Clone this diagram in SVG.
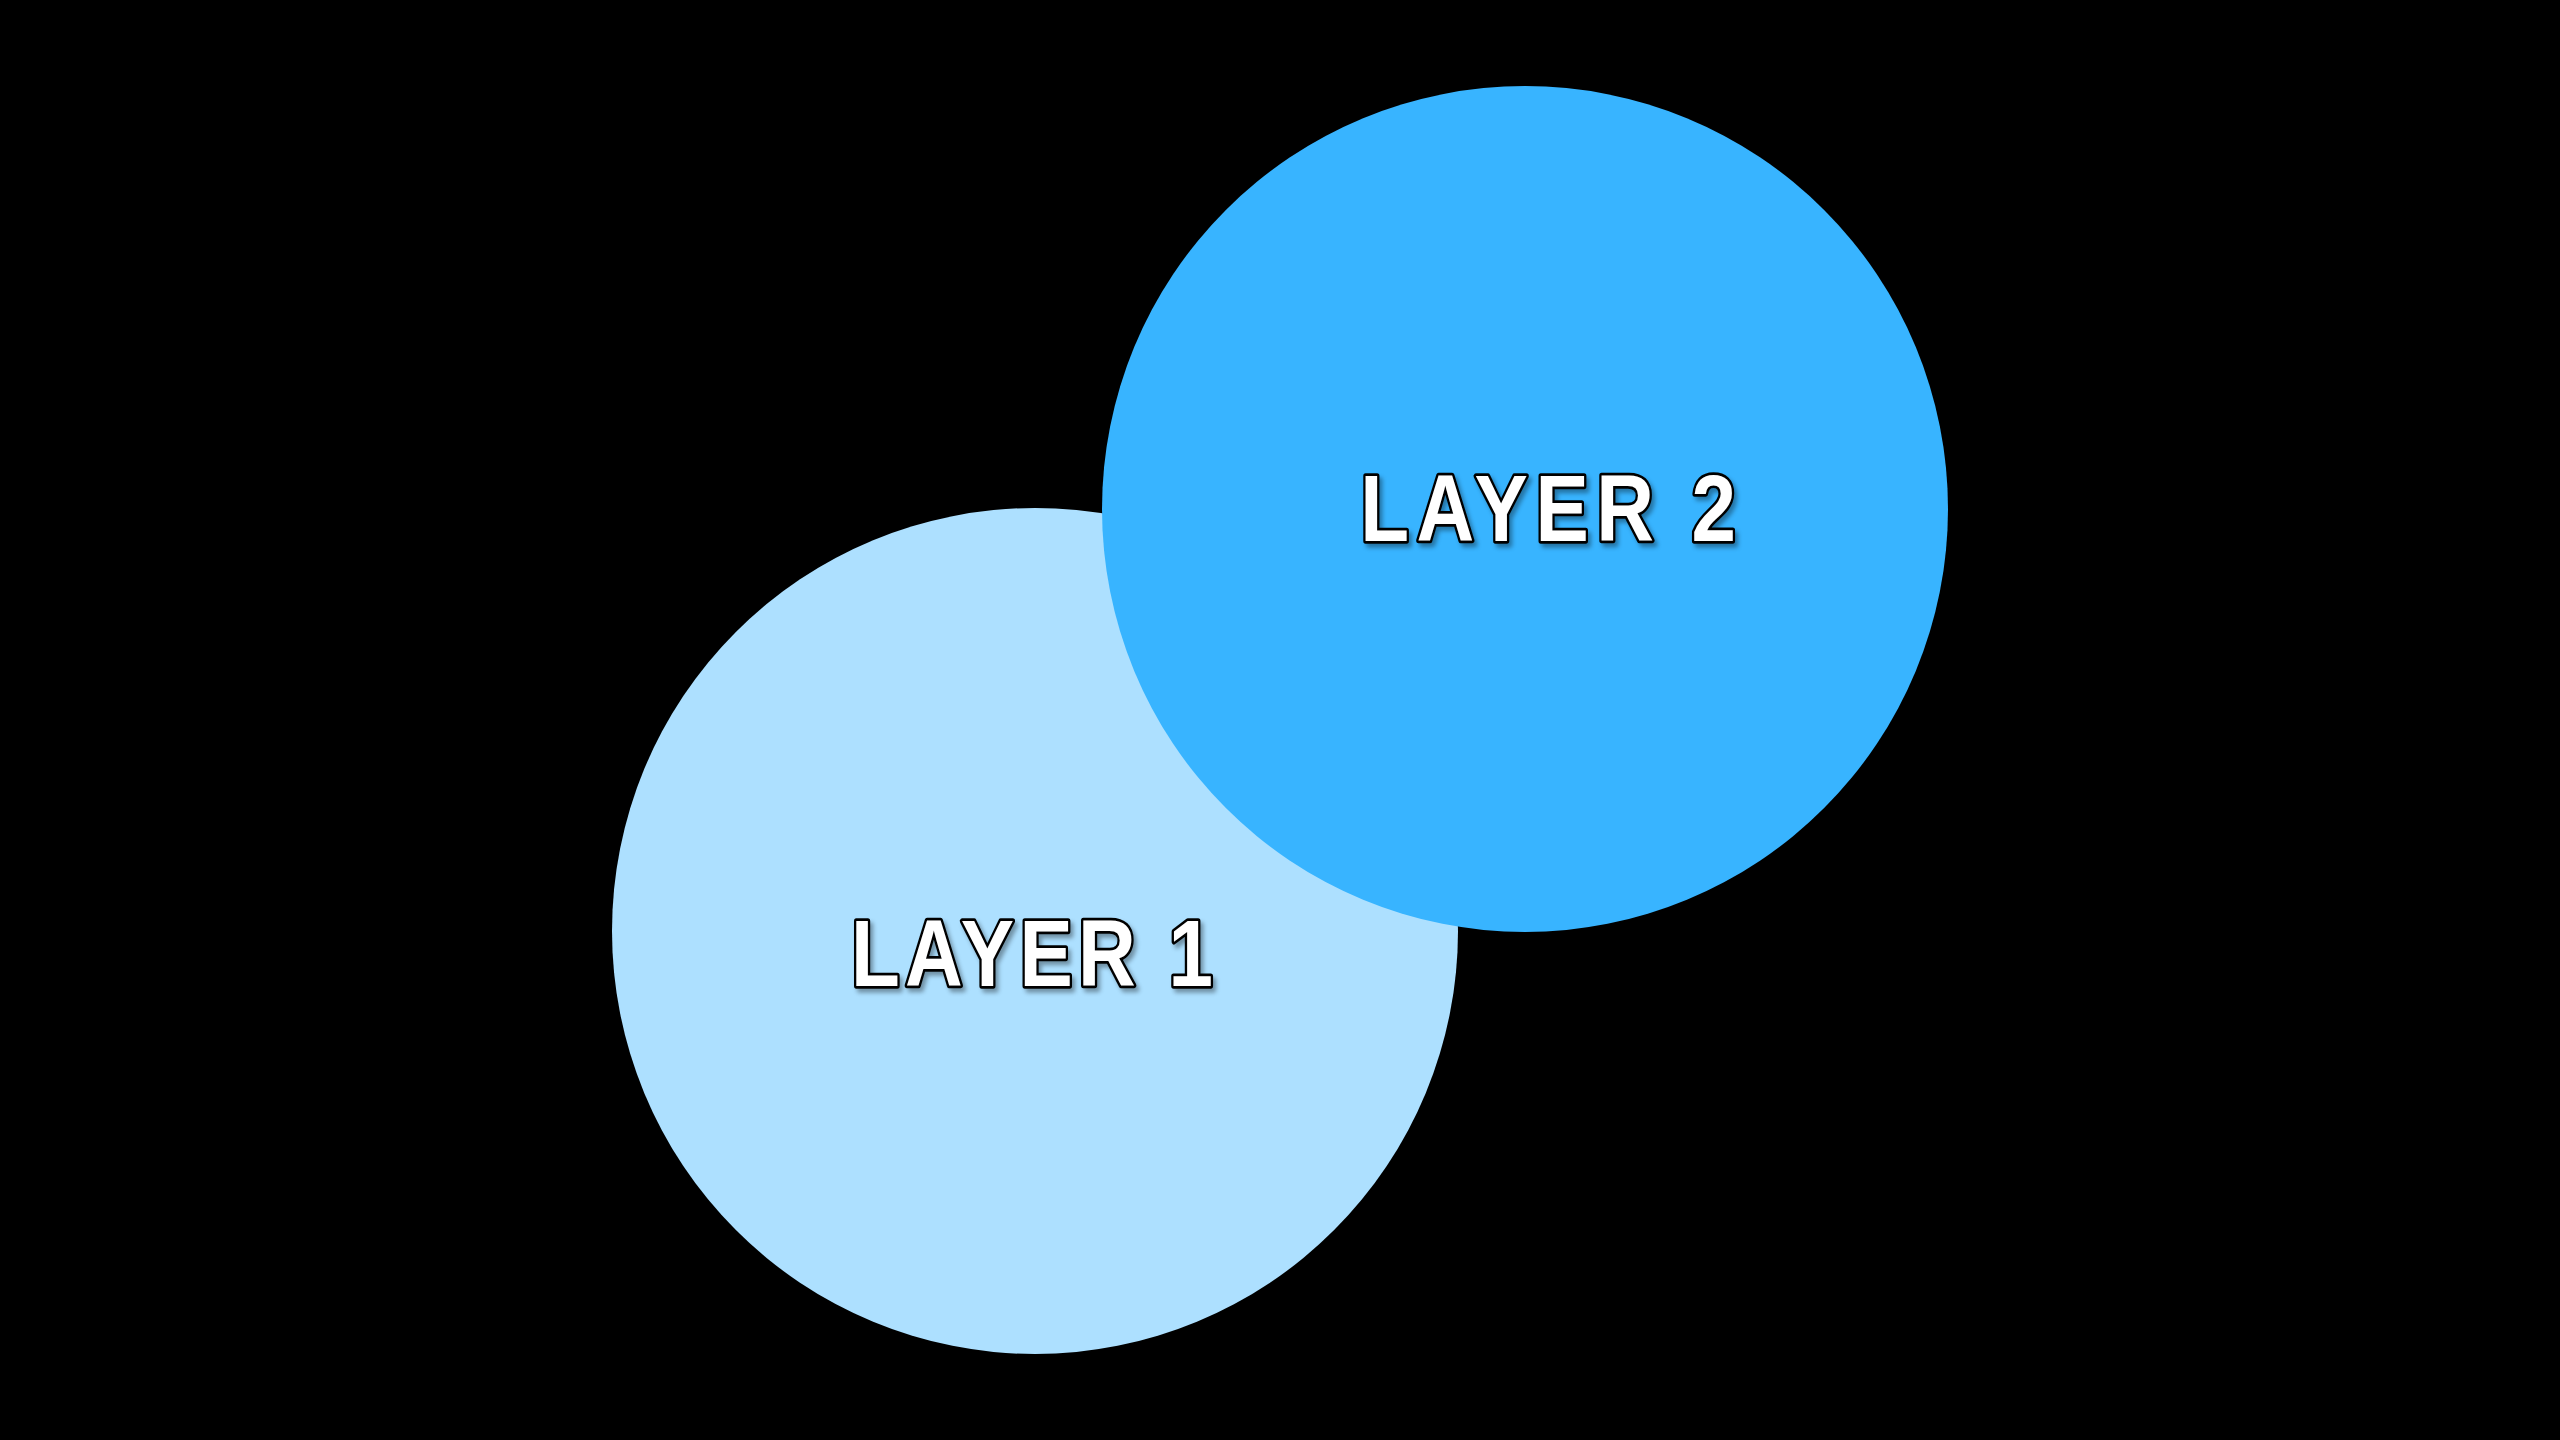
<svg xmlns="http://www.w3.org/2000/svg" width="2560" height="1440" viewBox="0 0 2560 1440">
<defs>
<filter id="sh" x="-10%" y="-20%" width="120%" height="150%">
<feDropShadow dx="3" dy="4" stdDeviation="2" flood-color="#000" flood-opacity="0.35"/>
</filter>
<style>
.lbl{font-family:"Liberation Sans",Arial,sans-serif;font-weight:bold;font-size:94px;fill:#fff;stroke:#000;stroke-width:5.5;paint-order:stroke;stroke-linejoin:round;text-anchor:middle}
</style>
</defs>
<rect width="2560" height="1440" fill="#000"/>
<g id="layer1">
<circle cx="1035" cy="931" r="423" fill="#ADE0FF"/>
</g>
<g id="layer2">
<circle cx="1525" cy="509" r="423" fill="#38B4FF"/>
</g>
<g id="labels" filter="url(#sh)">
<text class="lbl" transform="translate(1032,986) scale(0.85,1)" x="0" y="0" textLength="426" lengthAdjust="spacing">LAYER 1</text>
<text class="lbl" transform="translate(1548,541) scale(0.85,1)" x="0" y="0" textLength="442" lengthAdjust="spacing">LAYER 2</text>
</g>
<g id="connectors"/>
</svg>
